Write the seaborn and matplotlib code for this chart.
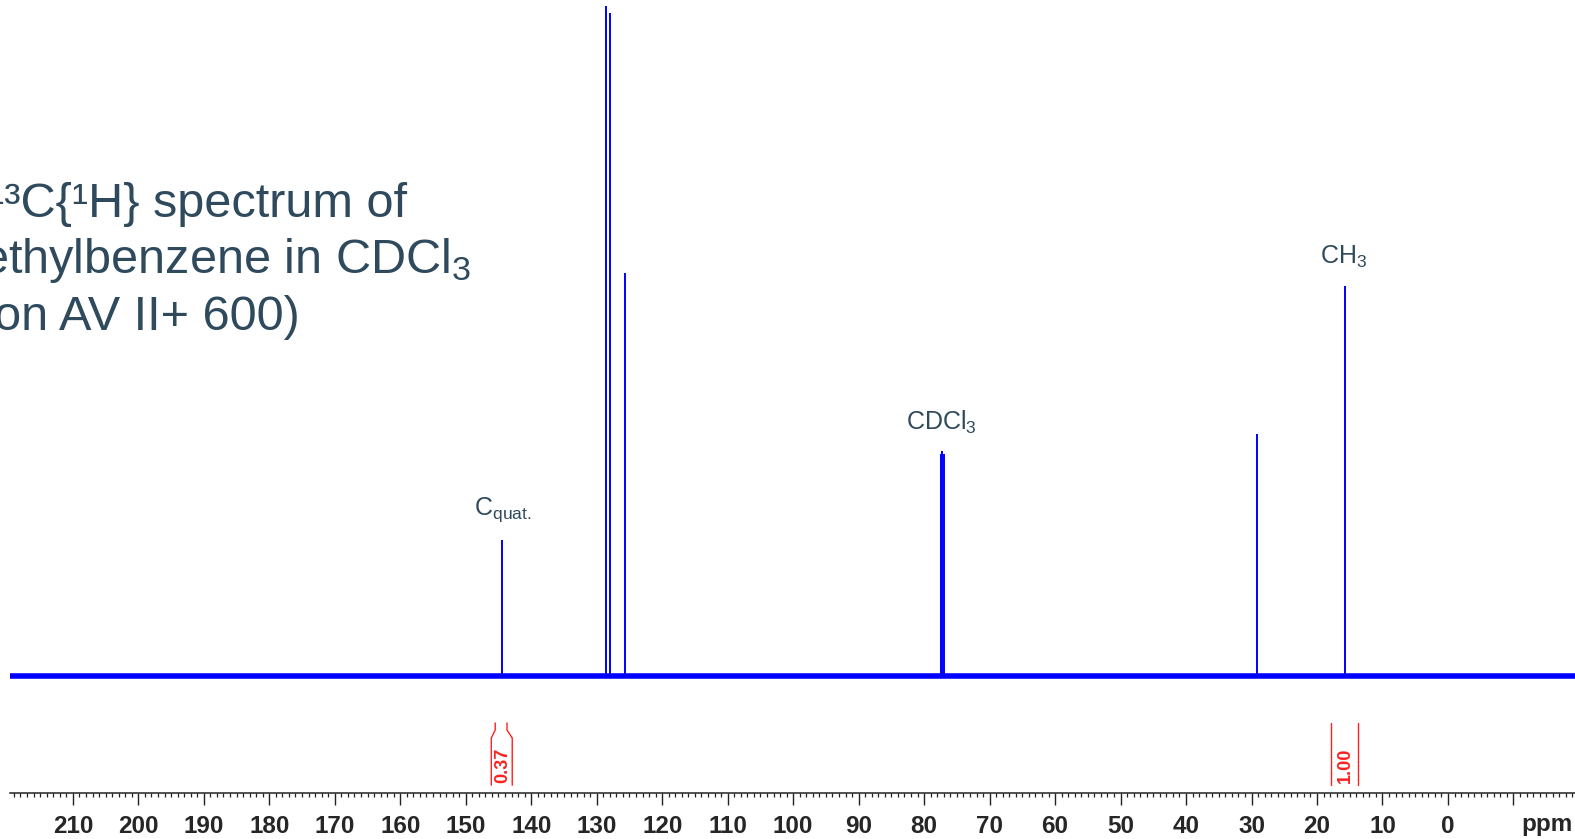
import seaborn as sns
import matplotlib.pyplot as plt

# peak positions (ppm) and heights (tallest = 100)
peak_ppm = [144.4, 128.6, 128.0, 125.7, 77.4, 77.2, 77.0, 29.2, 15.8]
peak_height = [20.3, 100.0, 99.0, 60.1, 33.2, 33.6, 33.2, 36.1, 58.2]

# spectral window (ppm), left to right
ppm_left, ppm_right = 219.6, -19.4

# integrals: label, centre (ppm)
int_labels = ["0.37", "1.00"]
int_centers = [144.4, 15.6]

# peak assignments
label_text = ["C$_{quat.}$", "CDCl$_3$", "CH$_3$"]
label_ppm = [144.3, 77.4, 16.0]
label_y = [24.0, 36.7, 61.5]

major_ticks = list(range(210, -11, -10))
tick_labels = [str(t) for t in major_ticks[:-1]] + [""]

sns.set_style("white")
plt.rcParams['font.family'] = ['Liberation Sans', 'DejaVu Sans']
plt.rcParams['mathtext.default'] = 'regular'

fig = plt.figure(figsize=(15.75, 8.39), dpi=100)
ax = fig.add_axes([10 / 1575, 46 / 839, 1 - 10 / 1575, 1 - 46 / 839])

blue = "#0000FF"
slate = "#2E4A5C"

# baseline (noise band) and peaks
sns.lineplot(x=[ppm_left, ppm_right], y=[0, 0], color=blue, lw=4.0, ax=ax)
ax.vlines(peak_ppm, 0, peak_height, color=blue, lw=1.4)

# integral brackets
red = "#FF2020"
b = int_centers[0]
ax.plot([b + 1.7, b + 1.7, b + 1.1, b + 1.1], [-16.3, -9.25, -8.06, -7.0], color=red, lw=1.0)
ax.plot([b - 1.5, b - 1.5, b - 0.7, b - 0.7], [-16.3, -9.25, -8.06, -7.0], color=red, lw=1.0)
c = int_centers[1]
ax.plot([c + 2.2, c + 2.2], [-16.3, -7.0], color=red, lw=1.0)
ax.plot([c - 1.8, c - 1.8], [-16.3, -7.0], color=red, lw=1.0)
for lab, x in zip(int_labels, int_centers):
    ax.text(x, -13.3, lab, rotation=90, ha='center', va='center',
            color=red, fontsize=13, weight='bold')

# assignments
for t, x, y in zip(label_text, label_ppm, label_y):
    ax.text(x, y, t, ha='center', va='baseline', fontsize=18, color=slate)

ax.set_xlim(ppm_left, ppm_right)
ax.set_ylim(-17.46, 100.9)
ax.set_xticks(major_ticks)
ax.set_xticklabels(tick_labels, fontsize=17.5, weight='bold')
ax.set_xticks([x for x in range(219, -20, -1)], minor=True)
ax.tick_params(axis='x', which='major', direction='out', length=8.6, width=1.0,
               pad=7, bottom=True, color='#222222')
ax.tick_params(axis='x', which='minor', direction='out', length=3.2, width=0.9,
               bottom=True, color='#222222')
ax.set_yticks([])
for s in ['left', 'top', 'right']:
    ax.spines[s].set_visible(False)
ax.spines['bottom'].set_linewidth(1.1)
ax.spines['bottom'].set_color('#222222')
ax.set_xlabel("")
ax.set_ylabel("")

fig.text(1573 / 1575, 1 - 824 / 839, "ppm", ha='right', va='center',
         fontsize=17.5, weight='bold')

# title block, partly running off the left edge
title_lines = ["¹³C{¹H} spectrum of", "ethylbenzene in CDCl$_3$", "(on AV II+ 600)"]
title_right = [407, 471, 300]
title_base = [217, 273, 330]
for t, xr, yb in zip(title_lines, title_right, title_base):
    fig.text(xr / 1575, 1 - yb / 839, t, ha='right', va='baseline',
             fontsize=35, color=slate)

fig.savefig("out.png", dpi=100)
